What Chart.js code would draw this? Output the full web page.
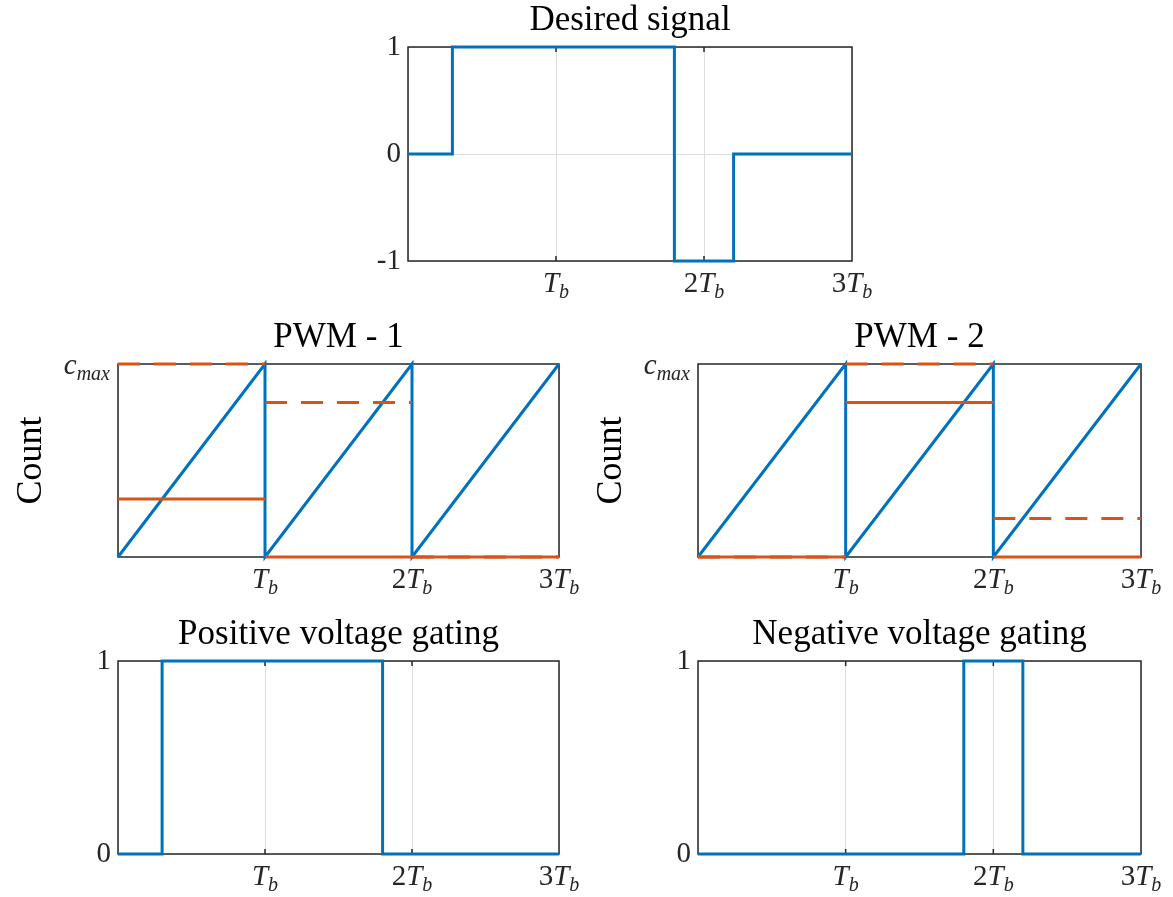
<!DOCTYPE html>
<html>
<head>
<meta charset="utf-8">
<script src="https://cdn.jsdelivr.net/npm/chart.js@4.4.0/dist/chart.umd.min.js"></script>
<style>
  html, body { margin: 0; padding: 0; background: #fff; width: 1173px; height: 897px; overflow: hidden; }
  canvas { position: absolute; }
</style>
</head>
<body>
<canvas id="desired"></canvas>
<canvas id="pwm1"></canvas>
<canvas id="pwm2"></canvas>
<canvas id="posGate"></canvas>
<canvas id="negGate"></canvas>
<script>
// time axis, in units of Tb
const xTicks = [1, 2, 3];
const xTickLabels = ['T_b', '2T_b', '3T_b'];

// desired signal: each level holds from its switch time to the next one
const desiredTimes = [0, 0.3, 1.8, 2.2, 3];
const desiredLevels = [0, 1, -1, 0, 0];

// counter sawtooth (fraction of c_max), one ramp per Tb
const counterTimes = [0, 1, 1, 2, 2, 3];
const counterValues = [0, 1, 0, 1, 0, 1];

// compare levels for each of the three periods (fraction of c_max)
const pwm1Solid = [0.3, 0, 0];
const pwm1Dashed = [1, 0.8, 0];
const pwm2Solid = [0, 0.8, 0];
const pwm2Dashed = [0, 1, 0.2];

// gate outputs
const posGateTimes = [0, 0.3, 1.8, 3];
const posGateLevels = [0, 1, 0, 0];
const negGateTimes = [0, 1.8, 2.2, 3];
const negGateLevels = [0, 1, 0, 0];

const SERIF = '"Liberation Serif", "Times New Roman", serif';
const BLUE = '#0072BD';
const ORANGE = '#D95319';
const AXIS = '#262626';
const GRID = '#dedede';

function toPoints(times, values) {
  return times.map((t, i) => ({ x: t, y: values[i] }));
}

// one flat segment per period, with gaps in between
function periodPoints(levels) {
  const pts = [];
  levels.forEach((v, k) => {
    pts.push({ x: k, y: v }, { x: k + 1, y: v });
    if (k < levels.length - 1) pts.push({ x: k + 1, y: null });
  });
  return pts;
}

// draws things like '2T_b' or 'c_max': digits upright, letters italic, subscript after '_'
function richLabel(ctx, label, x, y, size, align) {
  const [main, sub] = label.split('_');
  const m = main.match(/^(\d*)(.*)$/);
  const parts = [];
  if (m[1]) parts.push({ t: m[1], f: size + 'px ' + SERIF, dy: 0 });
  if (m[2]) parts.push({ t: m[2], f: 'italic ' + size + 'px ' + SERIF, dy: 0 });
  if (sub) parts.push({ t: sub, f: 'italic ' + Math.round(size * 0.7) + 'px ' + SERIF, dy: size * 0.2 });
  let total = 0;
  parts.forEach(p => { ctx.font = p.f; p.w = ctx.measureText(p.t).width; total += p.w; });
  let cx = align === 'right' ? x - total : x - total / 2;
  ctx.textAlign = 'left';
  ctx.textBaseline = 'alphabetic';
  parts.forEach(p => { ctx.font = p.f; ctx.fillText(p.t, cx, y + p.dy); cx += p.w; });
}

// matlab-like box, inward ticks, and the subscripted tick labels
const matlabAxes = {
  id: 'matlabAxes',
  beforeDatasetsDraw(chart, args, opts) {
    const { ctx, chartArea: a, scales: { x, y } } = chart;
    ctx.save();
    ctx.strokeStyle = AXIS;
    ctx.lineWidth = 1.5;
    ctx.strokeRect(a.left, a.top, a.width, a.height);
    ctx.beginPath();
    x.ticks.forEach(t => {
      const px = x.getPixelForValue(t.value);
      if (px > a.left + 2 && px < a.right - 2) {
        ctx.moveTo(px, a.bottom); ctx.lineTo(px, a.bottom - 5);
        ctx.moveTo(px, a.top); ctx.lineTo(px, a.top + 5);
      }
    });
    if (opts.yTickMarks) {
      y.ticks.forEach(t => {
        const py = y.getPixelForValue(t.value);
        if (py > a.top + 2 && py < a.bottom - 2) {
          ctx.moveTo(a.left, py); ctx.lineTo(a.left + 5, py);
          ctx.moveTo(a.right, py); ctx.lineTo(a.right - 5, py);
        }
      });
    }
    ctx.stroke();
    ctx.restore();
  },
  afterDraw(chart, args, opts) {
    const { ctx, chartArea: a, scales: { x, y } } = chart;
    ctx.save();
    ctx.fillStyle = AXIS;
    xTicks.forEach((v, i) => {
      richLabel(ctx, xTickLabels[i], x.getPixelForValue(v), a.bottom + 31, 29, 'center');
    });
    if (opts.yLabel) {
      richLabel(ctx, opts.yLabel, a.left - 8, y.getPixelForValue(opts.yLabelAt) + 10, 29, 'right');
    }
    ctx.restore();
  }
};

const PAD = { left: 110, right: 40, top: 50, bottom: 40 };

function makeChart(id, rect, title, datasets, yScale, axesOpts) {
  const canvas = document.getElementById(id);
  canvas.width = rect.r - rect.l + PAD.left + PAD.right;
  canvas.height = rect.b - rect.t + PAD.top + PAD.bottom;
  canvas.style.left = (rect.l - PAD.left) + 'px';
  canvas.style.top = (rect.t - PAD.top) + 'px';

  return new Chart(canvas.getContext('2d'), {
    type: 'line',
    data: { datasets: datasets },
    plugins: [matlabAxes],
    options: {
      responsive: false,
      animation: false,
      events: [],
      layout: { padding: { left: 0, right: PAD.right, top: 0, bottom: 0 } },
      elements: { point: { radius: 0 }, line: { borderWidth: 3, tension: 0 } },
      plugins: {
        legend: { display: false },
        tooltip: { enabled: false },
        title: {
          display: true,
          text: title,
          fullSize: false,
          color: '#000',
          font: { family: SERIF, size: 35, weight: 'normal', lineHeight: 1.2 },
          padding: { top: 3, bottom: 5 }
        },
        matlabAxes: axesOpts || {}
      },
      scales: {
        x: {
          type: 'linear',
          min: 0,
          max: 3,
          ticks: { stepSize: 1, display: false },
          grid: { display: yScale.xGrid !== false, color: GRID, lineWidth: 1, drawTicks: false },
          border: { display: false },
          afterFit: s => { s.height = PAD.bottom; }
        },
        y: {
          type: 'linear',
          min: yScale.min,
          max: yScale.max,
          ticks: {
            stepSize: 1,
            display: yScale.showTicks,
            color: AXIS,
            padding: 7,
            font: { family: SERIF, size: 29 }
          },
          grid: { display: yScale.yGrid !== false, color: GRID, lineWidth: 1, drawTicks: false },
          border: { display: false },
          title: {
            display: !!yScale.title,
            text: yScale.title || '',
            color: '#000',
            font: { family: SERIF, size: 36, lineHeight: 1.2 },
            padding: { top: 2, bottom: 0 }
          },
          afterFit: s => { s.width = PAD.left; }
        }
      }
    }
  });
}

function blueStep(times, levels) {
  return { data: toPoints(times, levels), borderColor: BLUE, stepped: 'before', clip: false, order: 1 };
}
function counterLine() {
  return { data: toPoints(counterTimes, counterValues), borderColor: BLUE, clip: false, order: 1 };
}
function compareLine(levels, dashed) {
  return {
    data: periodPoints(levels),
    borderColor: ORANGE,
    borderDash: dashed ? [22, 14] : [],
    spanGaps: false,
    clip: false,
    order: 0
  };
}

makeChart('desired', { l: 408, t: 47, r: 852, b: 261 }, 'Desired signal',
  [blueStep(desiredTimes, desiredLevels)],
  { min: -1, max: 1, showTicks: true }, { yTickMarks: true });

makeChart('pwm1', { l: 118, t: 364, r: 559, b: 557 }, 'PWM - 1',
  [counterLine(), compareLine(pwm1Solid, false), compareLine(pwm1Dashed, true)],
  { min: 0, max: 1, showTicks: false, title: 'Count', yGrid: false },
  { yLabel: 'c_max', yLabelAt: 1 });

makeChart('pwm2', { l: 698, t: 364, r: 1141, b: 557 }, 'PWM - 2',
  [counterLine(), compareLine(pwm2Solid, false), compareLine(pwm2Dashed, true)],
  { min: 0, max: 1, showTicks: false, title: 'Count', yGrid: false },
  { yLabel: 'c_max', yLabelAt: 1 });

makeChart('posGate', { l: 118, t: 661, r: 559, b: 854 }, 'Positive voltage gating',
  [blueStep(posGateTimes, posGateLevels)],
  { min: 0, max: 1, showTicks: true }, {});

makeChart('negGate', { l: 698, t: 661, r: 1141, b: 854 }, 'Negative voltage gating',
  [blueStep(negGateTimes, negGateLevels)],
  { min: 0, max: 1, showTicks: true }, {});
</script>
</body>
</html>
